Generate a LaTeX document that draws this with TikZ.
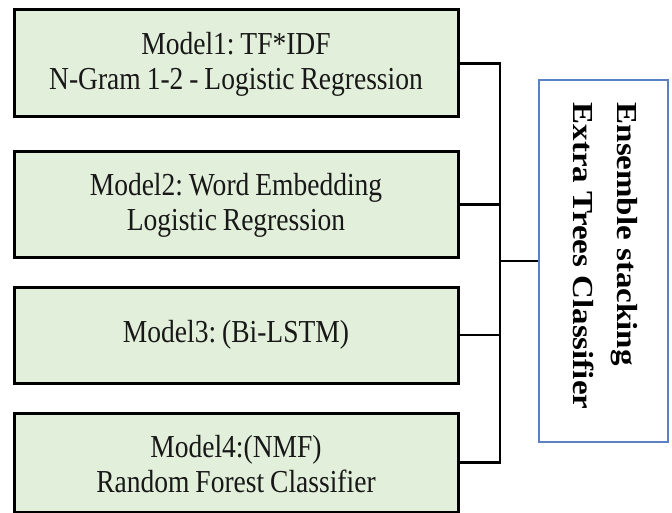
\documentclass[tikz,border=0pt]{standalone}
\usepackage{fontspec}
\setmainfont{Liberation Serif}[FakeStretch=0.86,WordSpace=0.86]
\newfontfamily\ensfont{Liberation Serif}
\definecolor{boxgreen}{RGB}{226,239,218}
\definecolor{ensblue}{RGB}{91,128,196}
\definecolor{txt}{RGB}{24,24,24}
\frenchspacing
\begin{document}
\begin{tikzpicture}[x=1pt,y=-1pt,
  modelbox/.style={draw=black, line width=3pt, fill=boxgreen, minimum width=444pt, align=center, text=txt, font=\fontsize{32}{35}\selectfont, inner sep=0pt},
  ensbox/.style={draw=ensblue, line width=1.3pt, minimum width=129pt, minimum height=362pt, inner sep=0pt},
  enstextstyle/.style={rotate=-90, align=left, text=black, font=\ensfont\bfseries\fontsize{33}{50}\selectfont, inner sep=0pt},
  wire/.style={line width=2.6pt}]
\useasboundingbox (0,0) rectangle (672,513);
\node[modelbox, minimum height=107pt] (m1) at (236,63.5) {\strut Model1: TF*IDF\\N-Gram 1-2 - Logistic Regression};
\node[modelbox, minimum height=105pt] (m2) at (236,204.5) {\strut Model2: Word Embedding\\Logistic Regression};
\node[modelbox, minimum height=96pt] (m3) at (236,335) {Model3: (Bi-LSTM)};
\node[modelbox, minimum height=99pt] (m4) at (236,462.5) {\strut Model4:(NMF)\\Random Forest Classifier};
\node[ensbox] (ens) at (603.5,261) {};
\begin{scope}[shift={(605,256)}, xscale=0.88, transform shape]
\node[enstextstyle] (enstext) at (0,0) {Ensemble stacking\\Extra Trees Classifier};
\end{scope}
\coordinate (j) at (500,261);
\draw[wire] (m1.east) -| (j);
\draw[wire] (m2.east) -| (j);
\draw[wire] (m3.east) -| (j);
\draw[wire] (m4.east) -| (j);
\draw[wire] (j) -- (ens.west);
\end{tikzpicture}
\end{document}
